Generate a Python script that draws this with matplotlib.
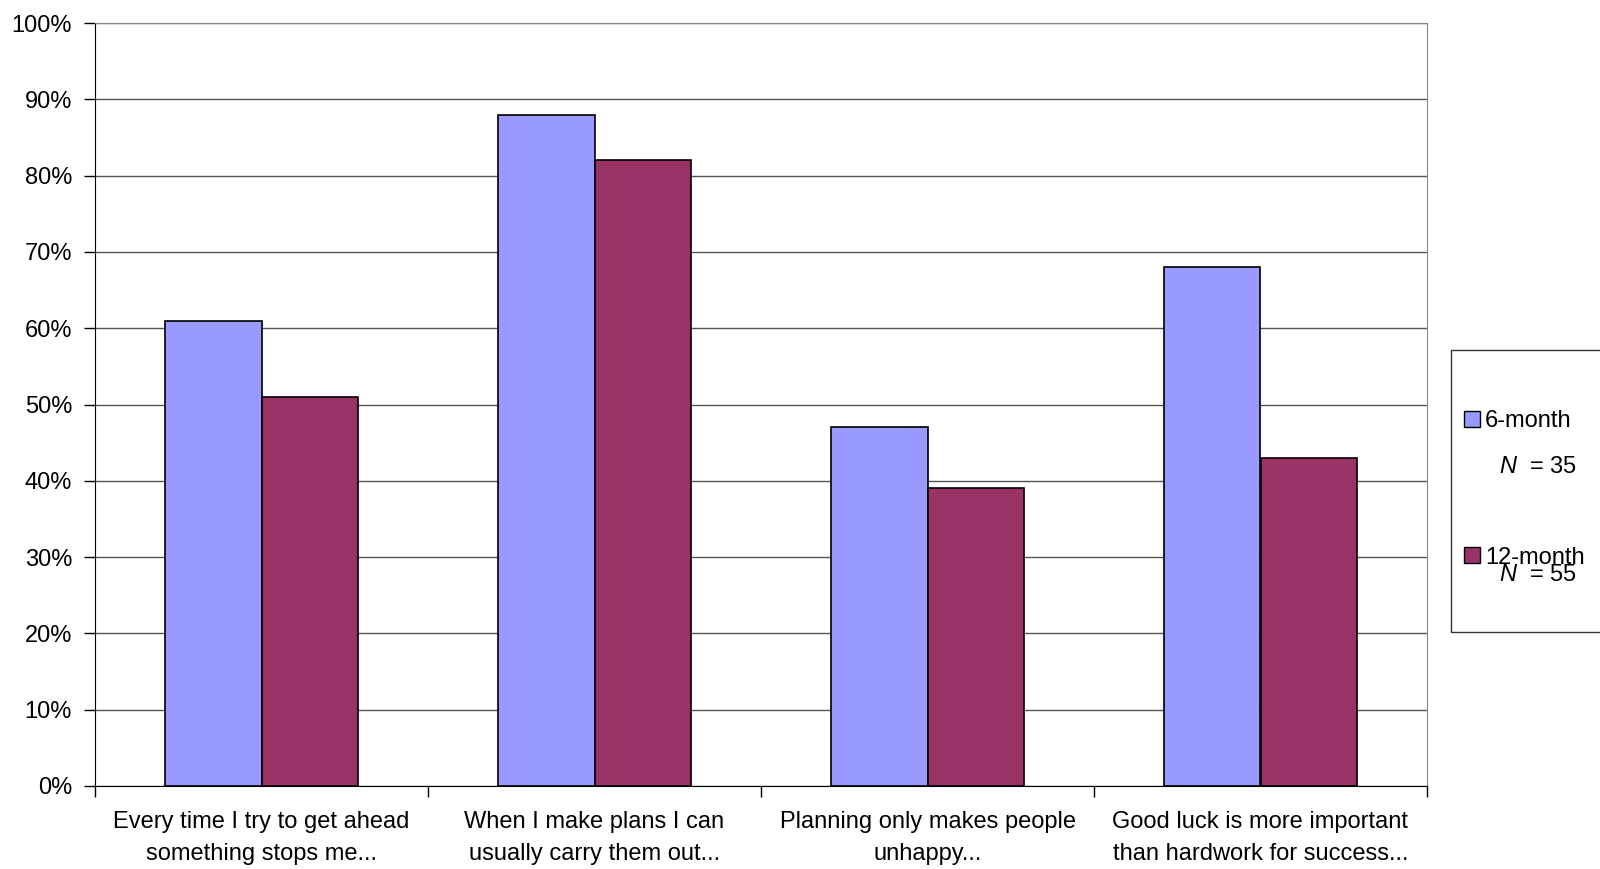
import numpy as np
import matplotlib
matplotlib.use("Agg")
import matplotlib.pyplot as plt
from matplotlib.patches import Rectangle, Patch

plt.rcParams['font.family'] = ['Liberation Sans', 'DejaVu Sans']
plt.rcParams['mathtext.fontset'] = 'custom'
plt.rcParams['mathtext.it'] = 'Liberation Sans:italic'
plt.rcParams['mathtext.rm'] = 'Liberation Sans'

categories = ["Every time I try to get ahead\nsomething stops me...",
              "When I make plans I can\nusually carry them out...",
              "Planning only makes people\nunhappy...",
              "Good luck is more important\nthan hardwork for success..."]
six_month = [61, 88, 47, 68]
twelve_month = [51, 82, 39, 43]
series_names = ["6-month", "12-month"]
n_labels = ["$N$  = 35", "$N$  = 55"]
blue = "#9999FF"
red = "#993366"
fs = 17

fig = plt.figure(figsize=(16, 8.69), dpi=100)
ax = fig.add_axes([95/1600, 1 - 786/869, (1427 - 95)/1600, (786 - 23)/869])

x = np.arange(len(categories))
w = 0.29
ax.bar(x - w/2, six_month, w, color=blue, edgecolor='black', linewidth=1.2, zorder=3)
ax.bar(x + w/2, twelve_month, w, color=red, edgecolor='black', linewidth=1.2, zorder=3)

ax.set_xlim(-0.5, len(categories) - 0.5)
ax.set_ylim(0, 100)
ax.set_yticks(np.arange(0, 101, 10))
ax.set_yticklabels([f"{v}%" for v in range(0, 101, 10)], fontsize=fs)
ax.yaxis.grid(True, color='#555555', linewidth=1.0, zorder=0)

ax.set_xticks(np.arange(-0.5, len(categories), 1.0))
ax.set_xticklabels([])
ax.set_xticks(x, minor=True)
ax.set_xticklabels(categories, minor=True, fontsize=fs, linespacing=1.58)
ax.tick_params(axis='x', which='minor', length=0, pad=18)
ax.tick_params(axis='x', which='major', length=8, width=1, direction='out')
ax.tick_params(axis='y', length=8, width=1, direction='out', pad=8.5)

for s in ['top', 'right']:
    ax.spines[s].set_color('#888888')
ax.spines['left'].set_color('black')
ax.spines['bottom'].set_color('black')

# legend box
fig.patches.append(Rectangle((1451/1600, 1 - 632/869), 200/1600, (632 - 350)/869,
                             transform=fig.transFigure, facecolor='white',
                             edgecolor='#333333', linewidth=1.0))
handles = [Patch(facecolor=blue, edgecolor='black'), Patch(facecolor=red, edgecolor='black')]
fig.legend(handles, series_names, loc='upper left', bbox_to_anchor=(1464/1600, 1 - 410/869),
           frameon=False, fontsize=fs, handlelength=0.68, handleheight=0.68,
           handletextpad=0.2, labelspacing=4.85, borderpad=0, borderaxespad=0)
fig.text(1499/1600, 1 - 473/869, n_labels[0], fontsize=fs, va='baseline')
fig.text(1499/1600, 1 - 581/869, n_labels[1], fontsize=fs, va='baseline')

fig.savefig("out.png", dpi=100)
